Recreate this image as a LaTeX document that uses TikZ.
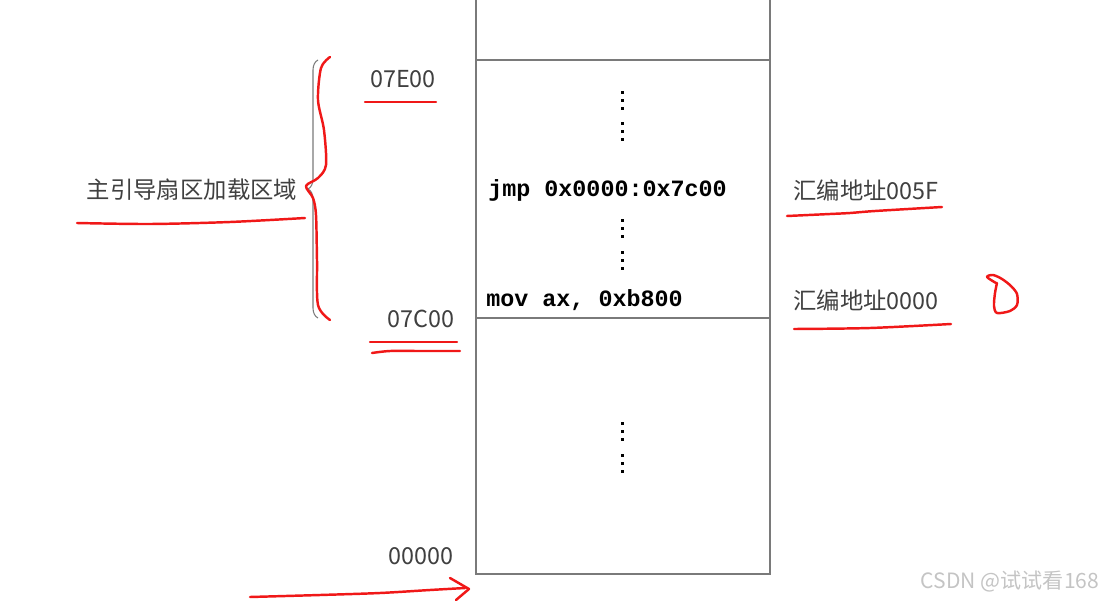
\documentclass[tikz,border=0pt]{standalone}
\usepackage{fontspec}
\setmainfont{Noto Sans CJK SC}
\newfontfamily\codefont{Liberation Mono}
\usetikzlibrary{positioning,calc,decorations.pathreplacing}
\definecolor{penred}{HTML}{F01818}
\definecolor{boxgray}{HTML}{7A7A7A}
\definecolor{txtgray}{HTML}{404040}
\definecolor{markgray}{HTML}{C4C4C4}

\begin{document}
\begin{tikzpicture}[x=0.02cm, y=-0.02cm,
  addr/.style={text=txtgray, font=\fontsize{13.3}{15}\selectfont, inner sep=0pt},
  code/.style={font=\codefont\bfseries\fontsize{13.3}{15}\selectfont, inner sep=0pt, anchor=west},
  ink/.style={penred, line width=1.4pt, line cap=round, line join=round}]
  \useasboundingbox (0,0) rectangle (1107,602);

  % Memory column
  \draw[boxgray, line width=0.7pt] (476,-10) -- (476,574) -- (770,574) -- (770,-10);
  \draw[boxgray, line width=0.7pt] (476,60) -- (770,60);
  \draw[boxgray, line width=0.7pt] (476,318) -- (770,318);

  % Vertical dots
  \foreach \y in {92,100,108,123,131,139, 220,228,236,252,260,268, 423,431,439,455,463,471}
    \fill (620.5,\y-1.5) rectangle (623.5,\y+1.5);

  % Addresses
  \node[addr] (e00) at (403,79) {07E00};
  \node[addr] (c00) at (421,319) {07C00};
  \node[addr] (z00) at (421,556) {00000};
  \node[addr] (area) at (192,190) {主引导扇区加载区域};

  % Code lines
  \node[code] (jmp) at (488,190) {jmp 0x0000:0x7c00};
  \node[code] (mov) at (486,300) {mov ax, 0xb800};

  % Assembly addresses
  \node[addr, anchor=west] (asm5f) at (793,190) {汇编地址005F};
  \node[addr, anchor=west] (asm0) at (793,300) {汇编地址0000};

  % Brace
  \draw[boxgray, line width=0.6pt, decorate, decoration={brace, amplitude=0.2cm}] (318,318) -- (318,60);

  % Red pen marks
  \draw[ink] plot[smooth] coordinates {(330,57) (321,68) (318,100) (324,130) (326,165) (318,178) (306,186) (313,198) (316,215) (317,260) (318,305) (330,320)};
  \draw[ink] plot[smooth] coordinates {(77,223) (150,224) (230,222) (305,218)};
  \draw[ink] (365,102) -- (436,102);
  \draw[ink] (370,342) -- (457,342);
  \draw[ink] plot[smooth] coordinates {(372,353) (390,351) (420,351) (460,351)};
  \draw[ink] plot[smooth] coordinates {(787,216) (830,214) (850,213) (875,211) (942,207)};
  \draw[ink] plot[smooth] coordinates {(794,329) (870,328) (951,324)};
  \draw[ink] plot[smooth] coordinates {(996,283) (987,277) (993,275) (1002,279) (1011,286) (1017,294) (1017,305) (1010,311) (997,313) (994,306) (995,293) (997,283)};
  \draw[ink] plot[smooth] coordinates {(250,597) (320,595) (380,593) (430,590) (465,588)};
  \draw[ink] (450,578) -- (469,589) -- (456,600);

  % Watermark
  \node[text=markgray, font=\fontsize{12}{14}\selectfont, inner sep=0pt] (mark) at (1010,582) {CSDN @试试看168};
\end{tikzpicture}
\end{document}
